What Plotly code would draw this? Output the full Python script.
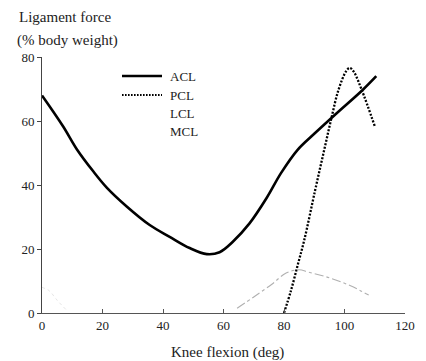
import plotly.graph_objects as go

acl_x = [0, 7, 11.5, 17, 21.4, 28, 35.6, 42.2, 48.8, 54.5, 58.7, 63, 68.6, 74.3, 79, 84.5, 90, 97.5, 106, 110.5]
acl_y = [68, 58.3, 51.2, 44.2, 39.2, 33.3, 27.5, 23.8, 20.3, 18.4, 19, 22.2, 28, 36, 43.7, 51, 56, 62.5, 69.7, 74]

pcl_x = [80, 82.3, 84.7, 86.7, 90.3, 93.3, 95.7, 98, 100.5, 101.7, 103, 105.7, 110]
pcl_y = [0, 7, 15.6, 22.8, 38.4, 51, 61, 69.7, 75.5, 76.6, 75.5, 69.7, 58.4]

lcl_x = [64.5, 70, 76, 80.7, 85, 88, 95, 102, 108]
lcl_y = [1.5, 5, 9, 12.5, 13.5, 12.8, 11, 8.5, 5.6]

mcl_x = [0, 2.3, 5, 8]
mcl_y = [8, 7, 4, 1]

series_names = ["ACL", "PCL", "LCL", "MCL"]
x_ticks = [0, 20, 40, 60, 80, 100, 120]
y_ticks = [0, 20, 40, 60, 80]

serif = "Liberation Serif"
ink = "#222"

fig = go.Figure()
fig.add_trace(go.Scatter(x=acl_x, y=acl_y, mode="lines", name=series_names[0],
                         line=dict(color="black", width=2.6, shape="spline")))
fig.add_trace(go.Scatter(x=pcl_x, y=pcl_y, mode="lines", name=series_names[1],
                         line=dict(color="black", width=2.3, dash="2px,1.6px", shape="spline")))
fig.add_trace(go.Scatter(x=lcl_x, y=lcl_y, mode="lines", name=series_names[2],
                         line=dict(color="#b0b0b0", width=1.1, dash="dashdot", shape="spline")))
fig.add_trace(go.Scatter(x=mcl_x, y=mcl_y, mode="lines", name=series_names[3],
                         line=dict(color="#e6e6e6", width=1, dash="dot", shape="spline")))

# page has an 8px body margin; work in page pixels and convert
OFF = 8
FW, FH = 426 - OFF, 361 - OFF
L, R, T, B = 42, 405, 57, 313  # plot area in page px
W, H = R - L, B - T
def px(xp):
    return (xp - L) / W
def py(yp):
    return (B - yp) / H

annotations = [
    dict(text="Ligament force", x=px(65), y=py(17)),
    dict(text="(% body weight)", x=px(67), y=py(40)),
    dict(text="Knee flexion (deg)", x=px(228), y=py(352)),
]
annotations = [dict(a, xref="paper", yref="paper", xanchor="center", yanchor="middle",
                    showarrow=False, font=dict(family=serif, size=15, color=ink))
               for a in annotations]

legend_rows = [76, 95, 113, 131]
legend_styles = [dict(color="black", width=2.6),
                 dict(color="black", width=1.8, dash="1.6px,1.4px"),
                 None, None]
shapes = []
for name, yp, st in zip(series_names, legend_rows, legend_styles):
    if st is not None:
        shapes.append(dict(type="line", xref="paper", yref="paper",
                           x0=px(122), x1=px(162), y0=py(yp), y1=py(yp), line=st))
    annotations.append(dict(text=name, xref="paper", yref="paper", x=px(168), y=py(yp),
                            xanchor="left", yanchor="middle", showarrow=False,
                            font=dict(family=serif, size=13, color=ink)))

fig.update_layout(
    width=FW, height=FH,
    margin=dict(l=L - OFF, r=426 - R, t=T - OFF, b=361 - B, pad=0),
    paper_bgcolor="white", plot_bgcolor="white",
    font=dict(family=serif, size=13, color=ink),
    showlegend=False,
    xaxis=dict(range=[0, 120], tickvals=x_ticks, ticks="inside", ticklen=4,
               showline=True, linecolor="#555", linewidth=1, showgrid=False, zeroline=False,
               tickcolor="#555", automargin=False,
               tickfont=dict(family=serif, size=13, color=ink)),
    yaxis=dict(range=[0, 80], tickvals=y_ticks, ticks="outside", ticklen=4,
               showline=True, linecolor="#444", linewidth=1, showgrid=False, zeroline=False,
               tickcolor="#444", automargin=False,
               tickfont=dict(family=serif, size=13, color=ink)),
    annotations=annotations,
    shapes=shapes,
)

fig.write_html("out.html")
